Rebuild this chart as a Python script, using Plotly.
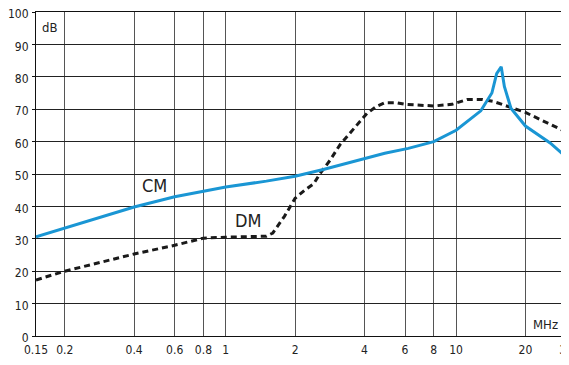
import math
import plotly.graph_objects as go

# Common mode (CM) and differential mode (DM) attenuation, frequency in MHz
cm_freq = [0.15, 0.2, 0.3, 0.4, 0.6, 0.8, 1, 1.5, 2, 2.65, 4, 4.9, 6.2, 8, 10, 12.8,
           14.3, 15.0, 15.7, 16.2, 17.3, 20, 25.6, 30]
cm_db = [30.6, 33.3, 37.0, 39.8, 43.0, 44.8, 46.0, 47.8, 49.3, 51.4, 54.8, 56.4, 57.9,
         60.0, 63.5, 69.5, 75.0, 81.0, 83.1, 77.0, 70.3, 64.8, 59.6, 55.3]

dm_freq = [0.15, 0.2, 0.4, 0.6, 0.8, 1, 1.5, 1.6, 1.8, 2, 2.2, 2.41, 2.57, 2.84, 3.13,
           3.46, 3.83, 4.1, 4.5, 4.9, 5.5, 6, 8, 9.6, 11.2, 13, 14.5, 17.5, 20, 25, 30]
dm_db = [17.3, 20.0, 25.3, 28.0, 30.2, 30.5, 30.8, 31.8, 37.0, 42.5, 45.0, 47.0, 50.2,
         54.3, 59.0, 62.5, 66.1, 68.7, 70.8, 72.0, 72.0, 71.5, 71.0, 71.5, 73.0, 73.0,
         72.4, 70.3, 69.0, 65.7, 63.0]

x_ticks = [0.15, 0.2, 0.4, 0.6, 0.8, 1, 2, 4, 6, 8, 10, 20, 30]
x_labels = ["0.15", "0.2", "0.4", "0.6", "0.8", "1", "2", "4", "6", "8", "10", "20", "30"]
y_ticks = list(range(0, 101, 10))

font = "Liberation Sans Narrow, DejaVu Sans Condensed, Liberation Sans, sans-serif"

fig = go.Figure()
fig.add_trace(go.Scatter(x=dm_freq, y=dm_db, mode="lines",
                         line=dict(color="#1a1a1a", width=3, dash="6px,4px")))
fig.add_trace(go.Scatter(x=cm_freq, y=cm_db, mode="lines",
                         line=dict(color="#1a96d4", width=3)))

# curve labels (log axis -> x given as log10)
fig.add_annotation(x=math.log10(0.49), y=46.3, text="CM", showarrow=False,
                   font=dict(size=18, color="#222"))
fig.add_annotation(x=math.log10(1.25), y=35.5, text="DM", showarrow=False,
                   font=dict(size=18, color="#222"))
fig.add_annotation(xref="paper", yref="paper", x=0.026, y=0.951, text="dB",
                   xanchor="center", yanchor="middle",
                   showarrow=False, font=dict(size=13, color="#222"))
fig.add_annotation(xref="paper", yref="paper", x=0.962, y=0.034, text="MHz",
                   xanchor="center", yanchor="middle",
                   showarrow=False, font=dict(size=13, color="#222"))

# page body has an 8px margin, so the figure is a bit smaller than the window
fig.update_layout(
    width=561, height=357,
    margin=dict(l=28, r=3, t=4, b=29),
    paper_bgcolor="white", plot_bgcolor="white",
    showlegend=False,
    font=dict(family=font, size=12, color="#222"),
    xaxis=dict(type="log", range=[math.log10(0.15) - 1e-5, math.log10(30) + 1e-5],
               tickvals=x_ticks, ticktext=x_labels, automargin=False,
               ticklabeloverflow="allow", ticklabelstandoff=3,
               showgrid=True, gridcolor="#555", gridwidth=1,
               showline=True, linecolor="#111", linewidth=1, mirror=True,
               ticks="", zeroline=False),
    yaxis=dict(range=[0, 100], tickvals=y_ticks, automargin=False,
               ticklabeloverflow="allow", ticklabelshift=2, ticklabelstandoff=1,
               showgrid=True, gridcolor="#222", gridwidth=1,
               showline=True, linecolor="#111", linewidth=1, mirror=True,
               ticks="outside", ticklen=3, tickcolor="#111", zeroline=False),
)

fig.write_html("out.html")
